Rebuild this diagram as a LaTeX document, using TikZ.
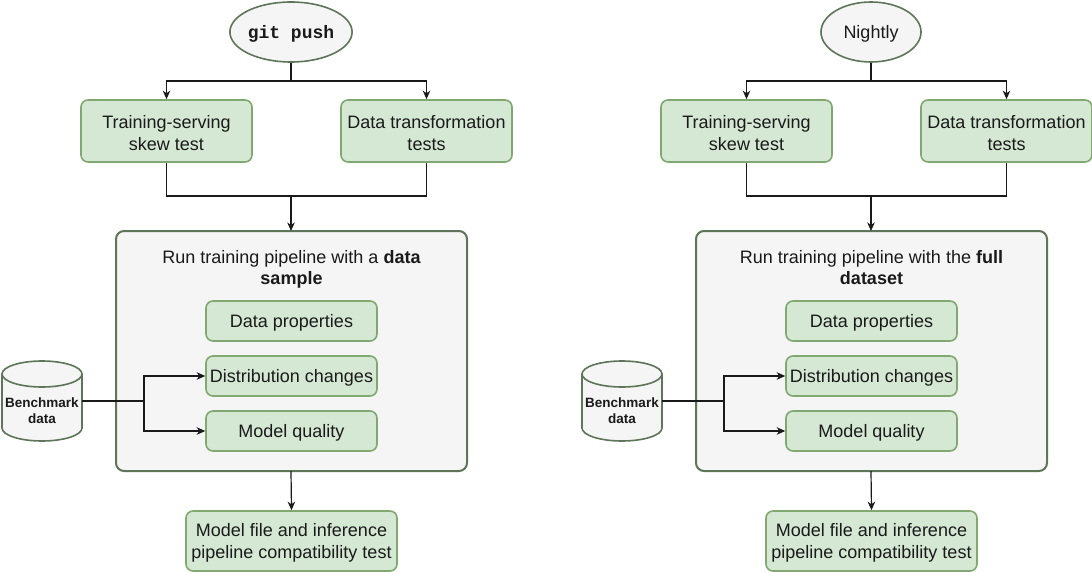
\documentclass[tikz,border=0pt]{standalone}
\usepackage{fontspec}
\setmainfont{Liberation Sans}
\setmonofont{Liberation Mono}
\usetikzlibrary{shapes.geometric,arrows.meta}
\definecolor{gfill}{HTML}{D5E8D4}
\definecolor{gstroke}{HTML}{82A872}
\definecolor{dstroke}{HTML}{5F7559}
\definecolor{lfill}{HTML}{F5F5F5}
\definecolor{txt}{HTML}{1A1A1A}
\newcommand\fst{\rule{0pt}{0.95em}}
\newcommand\lst{\rule[-0.22em]{0pt}{0.22em}}
\tikzset{
  base/.style={inner sep=0pt, align=center, text=txt, font=\fontsize{18}{21.6}\selectfont,
    execute at begin node={\fst}},
  greenbox/.style={base, rectangle, rounded corners=7pt, fill=gfill, draw=gstroke, line width=1.6pt},
  mainbox/.style={rectangle, rounded corners=8pt, fill=lfill, draw=dstroke, line width=2pt, inner sep=0pt},
  startell/.style={base, ellipse, fill=lfill, draw=dstroke, line width=1.6pt, minimum width=100pt, minimum height=60pt},
  conn/.style={line width=1.2pt, draw=txt},
  arr/.style={conn, -{Stealth[length=8.5pt,width=7.5pt,inset=2.5pt]}},
}
\newcommand\drawside[4]{%
\begin{scope}[xshift=#2pt]
  \node[startell] (gp#1) at (291,32) {#3};
  \node[greenbox, minimum width=171pt, minimum height=62pt] (ts#1) at (166.5,131) {\fst Training-serving\\skew test};
  \node[greenbox, minimum width=171pt, minimum height=62pt] (dt#1) at (426.5,131) {\fst Data transformation\\tests};
  \node[mainbox, minimum width=351pt, minimum height=240pt] (main#1) at (291.5,351) {};
  \node[base] (title#1) at (291.5,267.5) {#4};
  \node[greenbox, minimum width=171pt, minimum height=40pt] (dp#1) at (291.5,321) {Data properties};
  \node[greenbox, minimum width=171pt, minimum height=40pt] (dc#1) at (291.5,376) {Distribution changes};
  \node[greenbox, minimum width=171pt, minimum height=40pt] (mq#1) at (291.5,431) {Model quality};
  \node[greenbox, minimum width=211pt, minimum height=60pt] (mf#1) at (291.5,541) {\fst Model file and inference\\pipeline compatibility test};
  % cylinder
  \path[fill=lfill, draw=dstroke, line width=1.6pt] (2,374) -- (2,428)
     arc[start angle=180, end angle=360, x radius=40pt, y radius=13pt] -- (82,374)
     arc[start angle=0, end angle=180, x radius=40pt, y radius=13pt] -- cycle;
  \draw[dstroke, line width=1.6pt] (2,374) arc[start angle=180, end angle=360, x radius=40pt, y radius=13pt];
  \node[base, minimum width=80pt, minimum height=80pt, font=\bfseries\fontsize{13.5}{16.5}\selectfont] (bench#1) at (42,409) {\fst Benchmark\\data};
  \coordinate (split#1) at (291,81);
  \coordinate (join#1) at (291,196);
  \coordinate (bs#1) at (144,401);
  \draw[arr] (gp#1.south) -- (split#1) -| (ts#1.north);
  \draw[arr] (split#1) -| (dt#1.north);
  \draw[conn] (ts#1.south) |- (join#1);
  \draw[conn] (dt#1.south) |- (join#1);
  \draw[arr] (join#1) -- (291,231);
  \draw[conn] (82,401) -- (bs#1);
  \draw[arr] (bs#1) |- (dc#1.west);
  \draw[arr] (bs#1) |- (mq#1.west);
  \draw[arr] (291,471) -- (mf#1.north);
\end{scope}}
\begin{document}
\begin{tikzpicture}[x=1pt,y=-1pt]
  \useasboundingbox (0,0) rectangle (1092,572);
  \drawside{L}{0}{\ttfamily\bfseries git push}{\fst Run training pipeline with a \textbf{data}\\\textbf{sample}\lst}
  \drawside{R}{580}{Nightly}{\fst Run training pipeline with the \textbf{full}\\\textbf{dataset}\lst}
\end{tikzpicture}
\end{document}
